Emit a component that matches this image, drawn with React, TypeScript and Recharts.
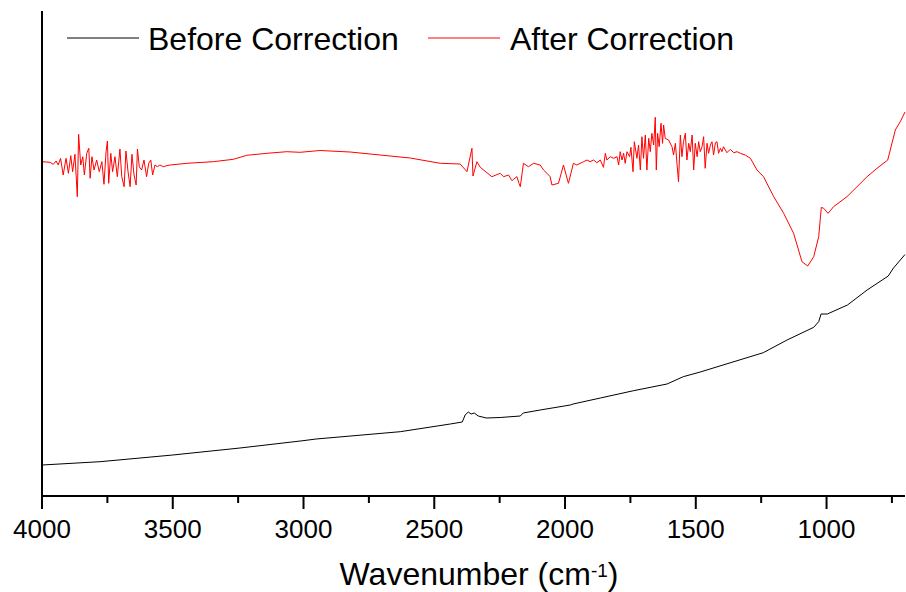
import { LineChart, Line, XAxis, YAxis } from "recharts";

const FONT = "'Liberation Sans', Arial, sans-serif";

// wavenumbers (cm-1) and intensity (a.u.)
const beforeWavenumber = [
  4000, 3778, 3500, 3243, 3002, 2952, 2630, 2439, 2393, 2382,
  2370, 2359, 2347, 2332, 2301, 2248, 2171, 2160, 2095, 2003,
  1980, 1969, 1865, 1738, 1610, 1548, 1483, 1242, 1151, 1049,
  1030, 1021, 997, 920, 845, 764, 744, 700,
];
const beforeIntensity = [
  31, 34.3, 41, 48, 55.3, 57, 64.3, 72, 74, 81,
  84, 82, 83, 80, 78, 78.5, 80, 83, 86, 90,
  91, 92, 98, 105.3, 112, 119.3, 124, 143.3, 156, 168.7,
  174.3, 182, 182, 191, 206, 220, 228, 241.5,
];

const afterWavenumber = [
  4000, 3969, 3957, 3946, 3938, 3929, 3919, 3908, 3899, 3890,
  3883, 3874, 3865, 3860, 3852, 3844, 3838, 3829, 3821, 3816,
  3809, 3801, 3791, 3781, 3771, 3763, 3755, 3750, 3745, 3737,
  3730, 3721, 3712, 3702, 3695, 3686, 3679, 3671, 3663, 3656,
  3648, 3640, 3635, 3628, 3619, 3610, 3600, 3592, 3584, 3577,
  3568, 3559, 3549, 3536, 3523, 3510, 3446, 3345, 3268, 3217,
  3140, 3064, 3013, 2937, 2822, 2707, 2592, 2477, 2401, 2375,
  2356, 2352, 2337, 2324, 2280, 2248, 2235, 2216, 2203, 2197,
  2184, 2176, 2171, 2159, 2140, 2120, 2095, 2082, 2069, 2057,
  2050, 2025, 2006, 1987, 1968, 1955, 1929, 1916, 1904, 1891,
  1878, 1865, 1853, 1846, 1840, 1827, 1814, 1801, 1795, 1789,
  1782, 1776, 1770, 1763, 1753, 1748, 1740, 1735, 1725, 1719,
  1712, 1706, 1700, 1693, 1687, 1680, 1674, 1668, 1661, 1655,
  1651, 1646, 1640, 1633, 1627, 1623, 1617, 1604, 1591, 1585,
  1578, 1572, 1566, 1559, 1553, 1547, 1540, 1534, 1527, 1521,
  1514, 1508, 1502, 1495, 1489, 1483, 1476, 1470, 1464, 1457,
  1451, 1444, 1438, 1432, 1425, 1419, 1413, 1406, 1400, 1394,
  1381, 1368, 1355, 1342, 1330, 1311, 1291, 1266, 1241, 1202,
  1164, 1126, 1094, 1072, 1049, 1030, 1020, 1011, 994, 973,
  922, 845, 807, 766, 737, 718, 700,
];
const afterIntensity = [
  334.3, 333.7, 331.7, 335, 331, 337.7, 321, 337.7, 322.7, 340.3,
  324.3, 341.7, 299.3, 361.7, 331, 339.3, 321, 342.7, 347.7, 317.7,
  339.3, 326, 336, 324.3, 334.3, 311.7, 344.3, 355, 312.7, 342.7,
  324.3, 339.3, 319.3, 347, 319.3, 309.3, 345, 324.3, 309.3, 341.7,
  321, 311, 347, 329.3, 326, 336, 319.3, 332.7, 336, 321,
  331, 329.3, 331, 329.3, 330.3, 331, 332.7, 334.3, 336.7, 340.7,
  342.7, 344.3, 343.7, 345.5, 344, 341, 338, 332.7, 332, 324.3,
  347.7, 320, 334.3, 328.7, 319.3, 322.7, 319.3, 321, 315.3, 316.7,
  319.3, 312.7, 309.3, 332.7, 329.3, 332.7, 331, 326, 322.7, 319.3,
  311, 312.7, 331, 312.7, 332.7, 331, 334.3, 336, 334.3, 336,
  333.3, 336, 328.7, 342.7, 336, 339.3, 337.7, 339.3, 331, 344.3,
  336, 342.7, 332.7, 344.3, 339.3, 348.7, 324.3, 354.3, 337.7, 351,
  326, 359.3, 337.7, 361, 326, 357.7, 344.3, 362.7, 351, 378.7,
  326, 362.7, 349.3, 372.7, 352.7, 371, 357.7, 356, 349.3, 341,
  352.7, 332.7, 314.3, 361, 339.3, 354.3, 362.7, 336, 352.7, 344.3,
  361, 326, 352.7, 339.3, 354.3, 344.3, 349.3, 359.3, 327.7, 352.7,
  342.7, 351, 354.3, 341, 353.3, 354.3, 342.7, 347.7, 344.3, 349.3,
  343.3, 346.7, 343.3, 344.3, 342.7, 341, 337.7, 326, 319.3, 299.3,
  282.7, 262.7, 234.3, 230, 239.3, 259.3, 288.7, 287.7, 282.7, 289.3,
  299.3, 319.3, 327.7, 336, 366, 374.3, 384,
];

const majorTicks = [4000, 3500, 3000, 2500, 2000, 1500, 1000];
const minorTicks = [3750, 3250, 2750, 2250, 1750, 1250, 750];

const beforeData = beforeWavenumber.map((x, i) => ({ x, y: beforeIntensity[i] }));
const afterData = afterWavenumber.map((x, i) => ({ x, y: afterIntensity[i] }));

function WaveTick(props: any) {
  const { x, y, payload } = props;
  const major = majorTicks.includes(payload.value);
  return (
    <g>
      <line x1={x} x2={x} y1={y} y2={y + (major ? 13 : 7)} stroke="#000" strokeWidth={2} />
      {major && (
        <text x={x} y={y + 42} textAnchor="middle" fontSize={26} fontFamily={FONT} fill="#000">
          {payload.value}
        </text>
      )}
    </g>
  );
}

function AxisTitle() {
  return (
    <text x={479} y={585} textAnchor="middle" fontSize={32} fontFamily={FONT} fill="#000">
      Wavenumber (cm
      <tspan fontSize={19} dy={-8}>-1</tspan>
      <tspan dy={8}>)</tspan>
    </text>
  );
}

export default function App() {
  return (
    <div style={{ position: "absolute", left: 0, top: 0, width: 906, height: 592, background: "#fff" }}>
      <LineChart width={906} height={592} data={afterData} margin={{ top: 11, right: 1, left: 0, bottom: 0 }}>
        <XAxis
          dataKey="x"
          type="number"
          domain={[700, 4000]}
          reversed
          ticks={[...majorTicks, ...minorTicks]}
          interval={0}
          height={96}
          tickSize={0}
          tickMargin={0}
          tickLine={false}
          tick={<WaveTick />}
          axisLine={{ stroke: "#000", strokeWidth: 2 }}
          label={<AxisTitle />}
        />
        <YAxis
          type="number"
          domain={[0, 485]}
          width={42}
          tick={false}
          tickLine={false}
          axisLine={{ stroke: "#000", strokeWidth: 2 }}
        />
        <Line
          data={beforeData}
          dataKey="y"
          type="linear"
          stroke="#000000"
          strokeWidth={1}
          dot={false}
          isAnimationActive={false}
        />
        <Line
          data={afterData}
          dataKey="y"
          type="linear"
          stroke="#ff0000"
          strokeWidth={1}
          dot={false}
          isAnimationActive={false}
        />
      </LineChart>
      <svg width={906} height={70} style={{ position: "absolute", left: 0, top: 0, pointerEvents: "none" }}>
        <line x1={67} x2={139} y1={38} y2={38} stroke="#000" strokeWidth={1} />
        <text x={148} y={49.5} fontSize={32} fontFamily={FONT} fill="#000">Before Correction</text>
        <line x1={428} x2={500} y1={38} y2={38} stroke="#ff0000" strokeWidth={1} />
        <text x={510} y={49.5} fontSize={32} fontFamily={FONT} fill="#000">After Correction</text>
      </svg>
    </div>
  );
}
